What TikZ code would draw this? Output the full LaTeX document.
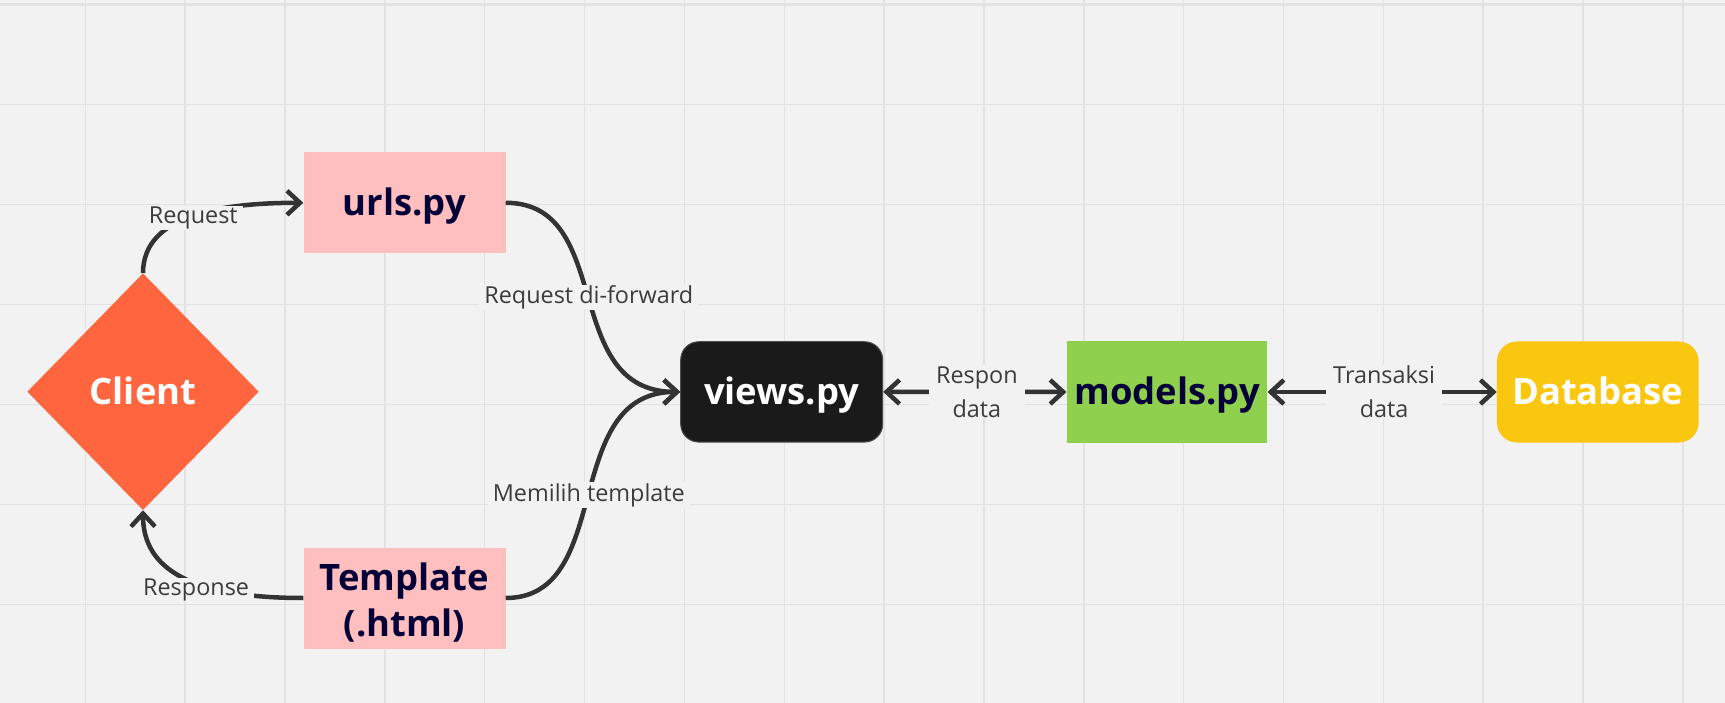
\documentclass[tikz,border=0pt]{standalone}
\usepackage{fontspec}
\setmainfont{Open Sans}
\usetikzlibrary{arrows.meta,shapes.geometric}
\definecolor{bg}{HTML}{F2F2F2}
\definecolor{gridc}{HTML}{E2E2E2}
\definecolor{pinkbox}{HTML}{FFBFBF}
\definecolor{clientc}{HTML}{FF6640}
\definecolor{viewsc}{HTML}{1A1A1A}
\definecolor{modelsc}{HTML}{8FD14F}
\definecolor{dbc}{HTML}{FAC710}
\definecolor{navy}{HTML}{050038}
\definecolor{linec}{HTML}{333333}
\definecolor{lblc}{HTML}{3C3C3C}
\begin{document}
\begin{tikzpicture}[x=1pt,y=-1pt,
  gridline/.style={draw=gridc, line width=1.5pt},
  boxfont/.style={font=\fontsize{36.4}{46}\selectfont\bfseries, text height=26pt, text depth=0pt},
  box/.style={rectangle, boxfont, minimum width=202pt, minimum height=101pt, inner sep=0pt},
  pinkstyle/.style={box, fill=pinkbox, text=navy},
  conn/.style={draw=linec, line width=4.5pt, arrows={-Straight Barb[length=13pt,width=24pt]}},
  biconn/.style={draw=linec, line width=4.5pt, arrows={Straight Barb[length=13pt,width=24pt]-Straight Barb[length=13pt,width=24pt]}},
  lbl/.style={fill=bg, text=lblc, font=\fontsize{23.4}{34}\selectfont, inner xsep=5pt, inner ysep=1pt, align=center},
  lbltwo/.style={lbl, inner xsep=7pt}
]
\useasboundingbox (0,0) rectangle (1725,703);
\fill[bg] (0,0) rectangle (1725,703);
% grid
\foreach \i in {0,...,16} {
  \draw[gridline] ({85.3+99.85*\i},0) -- ({85.3+99.85*\i},703);
}
\foreach \j in {1,...,6} {
  \draw[gridline] (0,{4.5+100*\j}) -- (1725,{4.5+100*\j});
}
\draw[draw=gridc, line width=2.2pt] (0,4.5) -- (1725,4.5);

% nodes
\node[diamond, fill=clientc, text=white, boxfont, minimum width=231.4pt, minimum height=236.7pt, inner sep=0pt] (client) at (143,391.7) {Client};
\node[pinkstyle] (urls) at (404.5,202.8) {urls.py};
\node[pinkstyle, align=center, text height=77.4pt, text depth=0pt] (tmpl) at (404.5,598) {Template\\(.html)};
\node[box, fill=viewsc, draw=black!70, line width=1pt, text=white, rounded corners=18pt, minimum height=100.3pt] (views) at (781.7,391.9) {views.py};
\node[box, fill=modelsc, text=navy, minimum width=200.6pt] (models) at (1167,392) {models.py};
\node[box, fill=dbc, text=white, rounded corners=20pt, minimum width=201.7pt] (db) at (1597.8,392) {Database};

% connectors
\draw[conn] (client.north) .. controls +(0,-58) and +(-83,0) .. (urls.west)
  node[lbl, pos=0.5, xshift=1.3pt, yshift=-1.5pt] (lreq) {Request};
\draw[conn] (tmpl.west) .. controls +(-110,0) and +(0,60) .. (client.south)
  node[lbl, pos=0.5, xshift=14.2pt, yshift=-13.6pt] (lresp) {Response};
\draw[conn] (urls.east) .. controls +(110,0) and +(-121,0) .. (views.west)
  node[lbl, pos=0.5] (lfwd) {Request di-forward};
\draw[conn] (tmpl.east) .. controls +(110,0) and +(-121,0) .. (views.west)
  node[lbl, pos=0.5] (ltmpl) {Memilih template};
\draw[biconn] (views.east) -- node[lbltwo, xshift=2pt] (lresdata) {Respon\\data} (models.west);
\draw[biconn] (models.east) -- node[lbltwo, xshift=2pt] (ltrans) {Transaksi\\data} (db.west);
\end{tikzpicture}
\end{document}
